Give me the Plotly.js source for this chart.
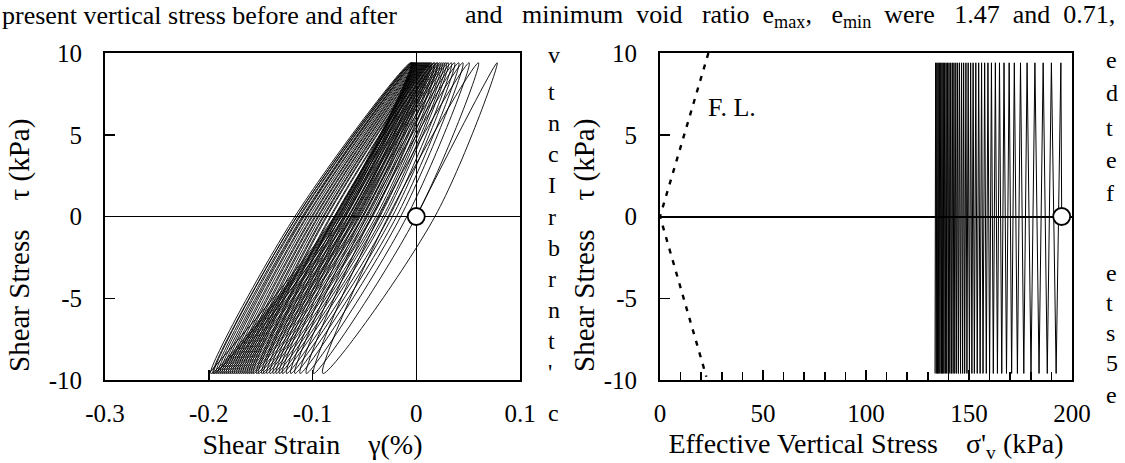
<!DOCTYPE html>
<html>
<head>
<meta charset="utf-8">
<script src="https://cdn.plot.ly/plotly-3.0.1.min.js"></script>
<style>html,body{margin:0;padding:0;background:#fff;}#chart{width:1125px;height:463px;}</style>
</head>
<body>
<div id="chart"></div>
<script>
// ---------- data ----------
// Left panel: shear strain (%) at stress reversals of each cycle
const gammaStart = 0;
const gammaTop = [0.078,0.060,0.051,0.045,0.041,0.037,0.034,0.031,0.029,0.027,0.025,0.023,0.021,0.020,0.018,0.017,0.015,0.014,0.013,0.012,0.011,0.010,0.009,0.008,0.007,0.006,0.005,0.004,0.003,0.002,0.001,0.000,-0.001,-0.001,-0.002,-0.003,-0.003,-0.004,-0.004,-0.005];
const gammaUnloadZero = [0.018,0.000,-0.009,-0.015,-0.019,-0.023,-0.026,-0.030,-0.032,-0.035,-0.037,-0.039,-0.042,-0.043,-0.045,-0.047,-0.049,-0.051,-0.052,-0.054,-0.055,-0.057,-0.058,-0.059,-0.061,-0.062,-0.063,-0.065,-0.066,-0.068,-0.069,-0.070,-0.072,-0.072,-0.074,-0.075,-0.076,-0.077,-0.078,-0.079];
const gammaBottom = [-0.090,-0.099,-0.106,-0.112,-0.117,-0.121,-0.125,-0.129,-0.132,-0.135,-0.138,-0.141,-0.144,-0.147,-0.149,-0.152,-0.154,-0.157,-0.159,-0.161,-0.163,-0.165,-0.167,-0.169,-0.171,-0.173,-0.175,-0.177,-0.179,-0.181,-0.183,-0.185,-0.187,-0.189,-0.191,-0.193,-0.195,-0.196,-0.198,-0.200];
const gammaLoadZero = [-0.027,-0.036,-0.043,-0.048,-0.052,-0.056,-0.060,-0.063,-0.065,-0.068,-0.070,-0.073,-0.075,-0.078,-0.079,-0.082,-0.083,-0.086,-0.087,-0.089,-0.090,-0.092,-0.094,-0.095,-0.097,-0.098,-0.100,-0.101,-0.103,-0.105,-0.106,-0.108,-0.109,-0.110,-0.112,-0.113,-0.115,-0.115,-0.117];
// Right panel: effective vertical stress (kPa) at stress reversals of each cycle
const sigmaStart = 195;
const sigmaTop = [194.6,190,186,182,178.2,175,172,169.5,167,164.8,162.8,160.9,159.2,157.6,156.1,154.7,153.3,152,150.8,149.6,148.5,147.4,146.4,145.4,144.5,143.6,142.7,141.9,141.1,140.3,139.6,138.9,138.2,137.5,136.9,136.3,135.6,135,134.4,133.8];
const sigmaBottom = [192.3,188,184,180.1,176.6,173.5,170.7,168.2,165.9,163.8,161.8,160,158.4,156.8,155.4,154,152.6,151.4,150.2,149,147.9,146.9,145.9,144.9,144,143.1,142.3,141.5,140.7,140,139.2,138.5,137.8,137.2,136.6,135.9,135.3,134.7,134.1,133.5];
// Shear stress amplitude (kPa)
const tauPeak = 9.4;
const tauTrough = -9.6;
// Failure line (F. L.) end points
const flSigma = [23.5, 0, 22.5];
const flTau = [10, 0, -9.8];
// Tick labels
const strainTicks = [-0.3,-0.2,-0.1,0,0.1];
const strainTickText = ["-0.3","-0.2","-0.1","0","0.1"];
const stressTicks = [-10,-5,0,5,10];
const stressTickText = ["-10","-5","0","5","10"];
const sigmaTicks = [0,50,100,150,200];
const sigmaTickText = ["0","50","100","150","200"];

// ---------- build paths ----------
const gx = [gammaStart], gy = [0];
for (let k = 0; k < gammaTop.length; k++) {
  gx.push(gammaTop[k]); gy.push(tauPeak);
  gx.push(gammaUnloadZero[k]); gy.push(0);
  gx.push(gammaBottom[k]); gy.push(tauTrough);
  if (k < gammaLoadZero.length) { gx.push(gammaLoadZero[k]); gy.push(0); }
}
const sx = [sigmaStart], sy = [0];
for (let k = 0; k < sigmaTop.length; k++) {
  sx.push(sigmaTop[k]); sy.push(tauPeak);
  sx.push(sigmaBottom[k]); sy.push(tauTrough);
}

const W = 1125, H = 463;
const px = v => v / W, py = v => 1 - v / H;
const FONT = "Liberation Serif";
const NB = '\u00a0';
const sp = n => NB.repeat(n);

const traces = [
  {x: gx, y: gy, xaxis: 'x', yaxis: 'y', mode: 'lines', line: {color: '#000', width: 0.9, shape: 'spline', smoothing: 1}, hoverinfo: 'skip', showlegend: false},
  {x: sx, y: sy, xaxis: 'x2', yaxis: 'y2', mode: 'lines', line: {color: '#000', width: 1}, hoverinfo: 'skip', showlegend: false},
  {x: flSigma, y: flTau, xaxis: 'x2', yaxis: 'y2', mode: 'lines', line: {color: '#000', width: 2.4, dash: '5px,7px'}, hoverinfo: 'skip', showlegend: false},
  {x: [gammaStart], y: [0], xaxis: 'x', yaxis: 'y', mode: 'markers', marker: {size: 17, color: '#fff', line: {color: '#000', width: 1.8}}, showlegend: false},
  {x: [sigmaStart], y: [0], xaxis: 'x2', yaxis: 'y2', mode: 'markers', marker: {size: 17, color: '#fff', line: {color: '#000', width: 1.8}}, showlegend: false}
];

const tickFont = {family: FONT, size: 25, color: '#000'};
const titleFont = {family: FONT, size: 28, color: '#000'};
const common = {showgrid: false, showline: true, mirror: true, linecolor: '#000', linewidth: 2,
  ticks: 'inside', ticklen: 10, tickwidth: 1.5, tickcolor: '#000', tickfont: tickFont, fixedrange: true};

const layout = {
  width: W, height: H, margin: {l: 0, r: 0, t: 0, b: 0},
  paper_bgcolor: '#fff', plot_bgcolor: '#fff', showlegend: false,
  font: {family: FONT, color: '#000', size: 26},
  xaxis: Object.assign({}, common, {domain: [px(105), px(520)], range: [-0.3, 0.1], tickvals: strainTicks, ticktext: strainTickText,
    zeroline: true, zerolinecolor: '#000', zerolinewidth: 1.5, ticklabelstandoff: 10, layer: 'above traces',
    title: {text: 'Shear Strain' + sp(4) + 'γ(%)', font: titleFont, standoff: 8}, anchor: 'y'}),
  yaxis: Object.assign({}, common, {domain: [py(380), py(53)], range: [-10, 10], tickvals: stressTicks, ticktext: stressTickText,
    zeroline: true, zerolinecolor: '#000', zerolinewidth: 1.5, ticklabelstandoff: 16, layer: 'above traces', anchor: 'x'}),
  xaxis2: Object.assign({}, common, {domain: [px(660), px(1072)], range: [0, 200], tickvals: sigmaTicks, ticktext: sigmaTickText,
    zeroline: false, ticklabelstandoff: 10, minor: {ticks: 'inside', dtick: 10, ticklen: 8, tickwidth: 1.5, tickcolor: '#000', showgrid: false},
    title: {text: "Effective Vertical Stress" + sp(4) + "σ'<sub>v</sub> (kPa)", font: titleFont, standoff: 8}, anchor: 'y2'}),
  yaxis2: Object.assign({}, common, {domain: [py(380), py(53)], range: [-10, 10], tickvals: stressTicks, ticktext: stressTickText,
    zeroline: true, zerolinecolor: '#000', zerolinewidth: 2, ticklabelstandoff: 16, layer: 'above traces', anchor: 'x2'}),
  annotations: []
};

function note(text, xpx, ypx, anchor, size, angle) {
  layout.annotations.push({text: text, xref: 'paper', yref: 'paper', x: px(xpx), y: py(ypx),
    xanchor: anchor || 'left', yanchor: 'middle', showarrow: false, textangle: angle || 0,
    font: {family: FONT, size: size || 26, color: '#000'}});
}
// vertical axis titles (placed lower than the axis centre, as in the reference)
const yTitle = 'Shear Stress' + sp(4) + 'τ (kPa)';
note(yTitle, 19, 246, 'center', 29, -90);
note(yTitle, 584, 246, 'center', 29, -90);
// F. L. label
note('F.' + NB + 'L.', 706, 107, 'left');
// surrounding page text
note('present vertical stress before and after', 0, 16, 'left');
note('and' + sp(3) + 'minimum' + sp(2) + 'void' + sp(3) + 'ratio' + sp(2) + 'e<sub>max</sub>,' + sp(3) + 'e<sub>min</sub>' + sp(2) +
     'were' + sp(3) + '1.47' + sp(2) + 'and' + sp(2) + '0.71,', 463, 16, 'left');
const leftFrag = ['v','t','n','c','I','r','b','r','n','t','\'','c'];
const leftFragY = [55,92,123,154,185,217,248,279,310,341,372,413];
leftFrag.forEach((c, i) => note(c, 546, leftFragY[i], 'left', 24));
const rightFrag = ['e','d','t','e','f','e','t','s','5','e'];
const rightFragY = [60,93,128,160,193,273,303,333,363,395];
rightFrag.forEach((c, i) => note(c, 1104, rightFragY[i], 'left', 24));

Plotly.newPlot('chart', traces, layout, {staticPlot: true, displayModeBar: false});
</script>
</body>
</html>
